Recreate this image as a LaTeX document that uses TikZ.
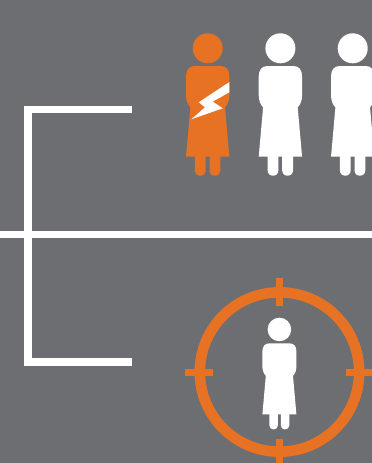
\documentclass[tikz,border=0pt]{standalone}
\definecolor{bggray}{HTML}{6D6E71}
\definecolor{accent}{HTML}{E77224}
\tikzset{
  figure part/.style={fill=#1,draw=none},
  rule line/.style={draw=white,line width=7.3pt,line cap=butt,line join=miter},
  sight ring/.style={draw=accent,line width=10.6pt},
  sight tick/.style={draw=accent,line width=7pt},
  pics/person/.style={code={
    \fill[figure part=#1] (0,15) circle (15);
    \fill[figure part=#1]
      (-13,32.7) -- (13,32.7) .. controls (18.5,32.7) and (21.67,36.5) .. (21.67,43)
      -- (21.67,62) .. controls (21.67,67) and (20,71.5) .. (17.3,74)
      -- (21.67,123.3) -- (-21.67,123.3) -- (-17.3,74)
      .. controls (-20,71.5) and (-21.67,67) .. (-21.67,62) -- (-21.67,43)
      .. controls (-21.67,36.5) and (-18.5,32.7) .. (-13,32.7) -- cycle;
    \fill[figure part=#1] (-12.8,120) -- (-12.8,137)
      .. controls (-12.8,140.2) and (-10.6,142.4) .. (-7.4,142.4)
      .. controls (-4.2,142.4) and (-2,140.2) .. (-2,137) -- (-2,120) -- cycle;
    \fill[figure part=#1] (1.8,120) -- (1.8,137)
      .. controls (1.8,140.2) and (4,142.4) .. (7.2,142.4)
      .. controls (10.4,142.4) and (12.6,140.2) .. (12.6,137) -- (12.6,120) -- cycle;
  }}
}
\begin{document}
\begin{tikzpicture}[x=1pt,y=-1pt]
  \useasboundingbox (0,0) rectangle (372,463);
  \clip (0,0) rectangle (372,463);
  \fill[bggray] (0,0) rectangle (372,463);
  % bracket and horizontal rule
  \draw[rule line] (0,234.7) -- (372,234.7);
  \draw[rule line] (132,109.35) -- (28,109.35) -- (28,362) -- (132,362);
  % figures, top row
  \pic at (207.7,33.3) {person=accent};
  \pic at (280.4,33.3) {person=white};
  \pic at (352.7,33.3) {person=white};
  % lightning bolt
  \fill[white,shift={(207.7,33.3)}] (21.7,48.7) -- (21.7,59) -- (5,68.3) -- (15,75)
    -- (-16.3,86) -- (-2.7,74) -- (-9,69) -- cycle;
  % target sight
  \draw[sight ring] (279.5,372) circle (79.7);
  \draw[sight tick] (279.5,278) -- (279.5,305.7);
  \draw[sight tick] (279.5,439) -- (279.5,463);
  \draw[sight tick] (185,372) -- (213,372);
  \draw[sight tick] (346,372) -- (372,372);
  \pic[scale=0.785] at (279.4,317.7) {person=white};
\end{tikzpicture}
\end{document}
